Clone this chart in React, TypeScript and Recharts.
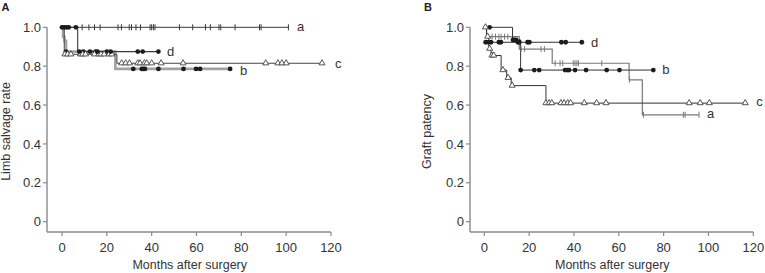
import React from 'react';
import { ComposedChart, Line, XAxis, YAxis } from 'recharts';

// ---------- Panel A: Limb salvage rate ----------
const aA_times = [0];
const aA_surv = [1.0];
const aA_end = 101;
const aA_censor = [9, 12, 14.5, 17, 25, 26.5, 30, 31, 33, 35, 39.3, 40, 40.8, 41.5, 52.4, 58.3, 64, 66.2, 70, 70.8, 77.2, 88.1, 88.8, 101];

const bA_times = [0, 0.5, 1.1, 1.8, 23.8];
const bA_surv = [1.0, 0.95, 0.93, 0.875, 0.786];
const bA_end = 75;
const bA_censor = [1.8, 9.5, 15, 20, 31.8, 35.6, 36.3, 37, 43, 54.2, 59.8, 61.6, 75];

const cA_times = [0, 1, 24.5];
const cA_surv = [1.0, 0.861, 0.815];
const cA_end = 116;
const cA_censor = [1.3, 2.5, 4, 8.2, 9.2, 10.5, 14.5, 16.4, 17.4, 18.8, 21, 22.2, 26.6, 28.4, 30.1, 33.8, 34.8, 36.8, 37.8, 40, 44.2, 54, 90.9, 96.3, 98.1, 100, 116];

const dA_times = [0, 7];
const dA_surv = [1.0, 0.875];
const dA_end = 43;
const dA_censor = [0, 1, 2, 3, 6.2, 7.7, 12.5, 15.8, 21.7, 33.8, 36, 43];

// ---------- Panel B: Graft patency ----------
const aB_times = [0, 1, 15.6, 30.3, 64.6, 70.5];
const aB_surv = [1.0, 0.952, 0.888, 0.815, 0.73, 0.55];
const aB_end = 95.8;
const aB_censor = [3.5, 5, 6.5, 7.5, 9, 10.5, 16.4, 17.9, 25.3, 26.8, 31.6, 33.8, 35, 39.7, 40.5, 41.3, 42, 52.4, 64.8, 71, 88.8, 89.6, 95.8];

const bB_times = [0, 12.6, 16.2];
const bB_surv = [1.0, 0.935, 0.78];
const bB_end = 75.4;
const bB_censor = [2.4, 12.8, 13.5, 14.2, 16.2, 22.3, 24.5, 36, 37.1, 37.8, 40.5, 45.4, 54.6, 60.3, 75.4];

const cB_times = [0, 1, 2, 3, 7.5, 10, 12, 27.5];
const cB_surv = [1.0, 0.952, 0.89, 0.855, 0.78, 0.74, 0.70, 0.61];
const cB_end = 116.4;
const cB_censor = [0.5, 1.5, 2.4, 3.4, 4.2, 8.3, 10.6, 12.4, 27.5, 28.9, 30.1, 34.2, 35.6, 37.2, 38.5, 44.6, 50.1, 54.3, 91.4, 96.3, 100.4, 116.4];

const dB_times = [0];
const dB_surv = [0.923];
const dB_end = 43.5;
const dB_censor = [0.6, 1.8, 3, 6.5, 7.4, 15, 15.6, 19.3, 20.1, 34.4, 36.3, 43.5];

const ticksX = [0, 20, 40, 60, 80, 100, 120];
const ticksY = [0, 0.2, 0.4, 0.6, 0.8, 1.0];

const FONT = '"Liberation Sans", Arial, Helvetica, sans-serif';

type Kind = 'tick' | 'dot' | 'tri';

function survAt(times: number[], surv: number[], t: number) {
  let s = surv[0];
  for (let i = 0; i < times.length; i++) if (t >= times[i]) s = surv[i];
  return s;
}

function buildSeries(name: string, times: number[], surv: number[], end: number, censor: number[], kind: Kind, color: string, width: number, dx: number, dy: number) {
  const line = times.map((t, i) => ({ t, s: surv[i] })).concat([{ t: end, s: surv[surv.length - 1] }]);
  const marks = censor.map((t) => ({ t, s: survAt(times, surv, t) }));
  const label = [{ t: end, s: surv[surv.length - 1] }];
  return { name, line, marks, label, kind, color, width, dx, dy };
}

const panelA = [
  buildSeries('b', bA_times, bA_surv, bA_end, bA_censor, 'dot', '#a2a2a2', 2.6, 10, 6),
  buildSeries('c', cA_times, cA_surv, cA_end, cA_censor, 'tri', '#444', 1, 13, 4.4),
  buildSeries('d', dA_times, dA_surv, dA_end, dA_censor, 'dot', '#3a3a3a', 1.1, 8.5, 4),
  buildSeries('a', aA_times, aA_surv, aA_end, aA_censor, 'tick', '#3a3a3a', 1, 8.5, 3.5),
];

const panelB = [
  buildSeries('a', aB_times, aB_surv, aB_end, aB_censor, 'tick', '#7a7a7a', 1.2, 8, 3.5),
  buildSeries('b', bB_times, bB_surv, bB_end, bB_censor, 'dot', '#333', 1, 9, 4),
  buildSeries('c', cB_times, cB_surv, cB_end, cB_censor, 'tri', '#333', 1, 11, 3),
  buildSeries('d', dB_times, dB_surv, dB_end, dB_censor, 'dot', '#333', 1, 9.3, 4.4),
];

function renderMarker(kind: Kind, color: string) {
  return (p: any) => {
    const { cx, cy, index } = p;
    if (cx == null || cy == null) return <g key={index} />;
    if (kind === 'tick')
      return <line key={index} x1={cx} x2={cx} y1={cy - 3} y2={cy + 3} stroke={color} strokeWidth={1} />;
    if (kind === 'dot') return <circle key={index} cx={cx} cy={cy} r={2.4} fill="#1c1c1c" />;
    return (
      <polygon
        key={index}
        points={`${cx},${cy - 3.6} ${cx - 3},${cy + 1.6} ${cx + 3},${cy + 1.6}`}
        fill="#fff"
        stroke="#444"
        strokeWidth={0.9}
      />
    );
  };
}

function renderLabel(text: string, dx: number, dy: number) {
  return (p: any) => {
    const { cx, cy, index } = p;
    if (cx == null || cy == null) return <g key={index} />;
    return (
      <text key={index} x={cx + dx} y={cy + dy} fontSize={13} fill="#333" fontFamily={FONT}>
        {text}
      </text>
    );
  };
}

type PanelProps = {
  left: number;
  width: number;
  marginLeft: number;
  marginRight: number;
  xMin: number;
  series: ReturnType<typeof buildSeries>[];
  yLabel: string;
  yLabelX: number;
  xLabelX: number;
};

function Panel({ left, width, marginLeft, marginRight, xMin, series, yLabel, yLabelX, xLabelX }: PanelProps) {
  const axisColor = '#8a8a8a';
  return (
    <div style={{ position: 'absolute', left, top: 0, width, height: 273 }}>
      <ComposedChart width={width} height={273} margin={{ top: 27.3, right: marginRight, bottom: 11, left: marginLeft }}>
        <XAxis
          type="number"
          dataKey="t"
          domain={[xMin, 120]}
          ticks={ticksX}
          height={30}
          tickSize={4}
          tickMargin={7}
          axisLine={{ stroke: axisColor, strokeWidth: 1.4 }}
          tickLine={{ stroke: axisColor, strokeWidth: 1.2 }}
          tick={{ fontSize: 13, fill: '#333', fontFamily: FONT }}
          label={(() => (
            <text x={xLabelX} y={269} textAnchor="middle" fontSize={12.5} fill="#333" fontFamily={FONT}>
              Months after surgery
            </text>
          )) as any}
        />
        <YAxis
          type="number"
          dataKey="s"
          domain={[-0.053, 1]}
          ticks={ticksY}
          width={40}
          tickSize={4}
          tickMargin={2}
          tickFormatter={(v: number) => (v === 0 ? '0' : v.toFixed(1))}
          axisLine={{ stroke: axisColor, strokeWidth: 1.4 }}
          tickLine={{ stroke: axisColor, strokeWidth: 1.2 }}
          tick={{ fontSize: 13, fill: '#333', fontFamily: FONT }}
          label={(() => (
            <text
              x={yLabelX}
              y={131.5}
              transform={`rotate(-90, ${yLabelX}, 131.5)`}
              textAnchor="middle"
              fontSize={12.5}
              fill="#333"
              fontFamily={FONT}
            >
              {yLabel}
            </text>
          )) as any}
        />
        {series.map((s) => (
          <Line
            key={`line-${s.name}`}
            data={s.line}
            dataKey="s"
            type="stepAfter"
            stroke={s.color}
            strokeWidth={s.width}
            dot={false}
            activeDot={false}
            isAnimationActive={false}
            legendType="none"
          />
        ))}
        {series.map((s) => (
          <Line
            key={`marks-${s.name}`}
            data={s.marks}
            dataKey="s"
            type="linear"
            stroke="none"
            strokeWidth={0}
            dot={renderMarker(s.kind, s.color) as any}
            activeDot={false}
            isAnimationActive={false}
            legendType="none"
          />
        ))}
        {series.map((s) => (
          <Line
            key={`label-${s.name}`}
            data={s.label}
            dataKey="s"
            type="linear"
            stroke="none"
            strokeWidth={0}
            dot={renderLabel(s.name, s.dx, s.dy) as any}
            activeDot={false}
            isAnimationActive={false}
            legendType="none"
          />
        ))}
      </ComposedChart>
    </div>
  );
}

export default function App() {
  return (
    <div style={{ position: 'absolute', left: 0, top: 0, width: 765, height: 273, background: '#fff', fontFamily: FONT }}>
      <Panel
        left={0}
        width={345}
        marginLeft={7}
        marginRight={14}
        xMin={-6.69}
        series={panelA}
        yLabel="Limb salvage rate"
        yLabelX={9.5}
        xLabelX={189.7}
      />
      <Panel
        left={385}
        width={380}
        marginLeft={45}
        marginRight={11.7}
        xMin={-6.38}
        series={panelB}
        yLabel="Graft patency"
        yLabelX={45.5}
        xLabelX={227.3}
      />
      <svg width={765} height={273} style={{ position: 'absolute', left: 0, top: 0, pointerEvents: 'none' }}>
        <text x={1.5} y={10.7} fontSize={11} fontWeight="bold" fill="#222" fontFamily={FONT}>
          A
        </text>
        <text x={424} y={10.7} fontSize={11} fontWeight="bold" fill="#222" fontFamily={FONT}>
          B
        </text>
      </svg>
    </div>
  );
}
